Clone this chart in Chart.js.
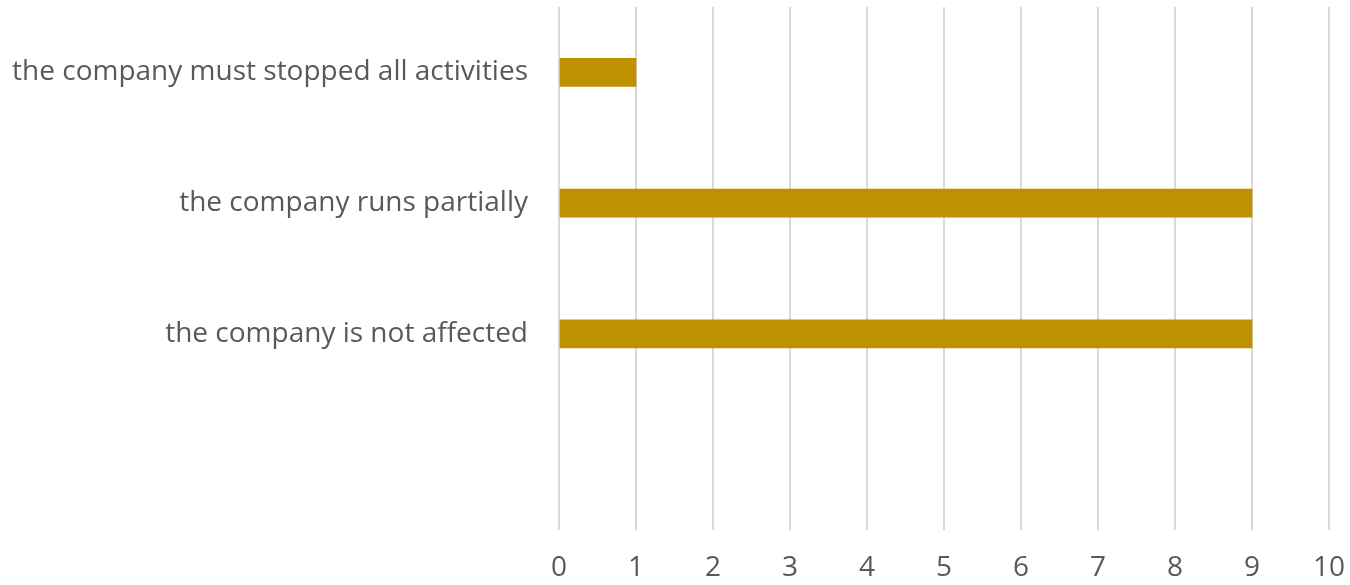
<!DOCTYPE html>
<html>
<head>
<meta charset="utf-8">
<script src="https://cdn.jsdelivr.net/npm/chart.js@4"></script>
<style>
  html, body { margin: 0; padding: 0; background: #ffffff; }
  #wrap { width: 1350px; height: 585px; }
</style>
</head>
<body>
<div id="wrap"><canvas id="chart" width="1350" height="585"></canvas></div>
<script>
// Categories top to bottom (last slot is empty in the original)
const categories = [
    'the company must stopped all activities',
    'the company runs partially',
    'the company is not affected',
    ''
];
const counts = [1, 9, 9, null];
const xTicks = [0, 1, 2, 3, 4, 5, 6, 7, 8, 9, 10];

const textColor = '#595959';
const fontFamily = '"Open Sans", sans-serif';

new Chart(document.getElementById('chart'), {
    type: 'bar',
    data: {
        labels: categories,
        datasets: [{
            data: counts,
            backgroundColor: '#BF9000',
            borderWidth: 0,
            barThickness: 28
        }]
    },
    options: {
        indexAxis: 'y',
        responsive: false,
        animation: false,
        layout: { padding: { top: 7, right: 21, left: 0, bottom: 0 } },
        plugins: {
            legend: { display: false },
            tooltip: { enabled: false }
        },
        scales: {
            x: {
                min: xTicks[0],
                max: xTicks[xTicks.length - 1],
                afterBuildTicks: axis => {
                    axis.ticks = xTicks.map(v => ({ value: v }));
                },
                afterFit: axis => {
                    axis.height = 55;
                    axis.paddingLeft = 0;
                    axis.paddingRight = 0;
                },
                grid: { color: '#d9d9d9', lineWidth: 2, drawTicks: false },
                border: { display: false },
                ticks: {
                    padding: 21,
                    color: textColor,
                    font: { family: fontFamily, size: 28 }
                }
            },
            y: {
                afterFit: axis => {
                    axis.width = 559;
                    axis.paddingTop = 0;
                    axis.paddingBottom = 0;
                },
                grid: { display: false, drawTicks: false },
                border: { display: false },
                ticks: {
                    padding: 31,
                    color: textColor,
                    font: { family: fontFamily, size: 28 }
                }
            }
        }
    }
});
</script>
</body>
</html>
